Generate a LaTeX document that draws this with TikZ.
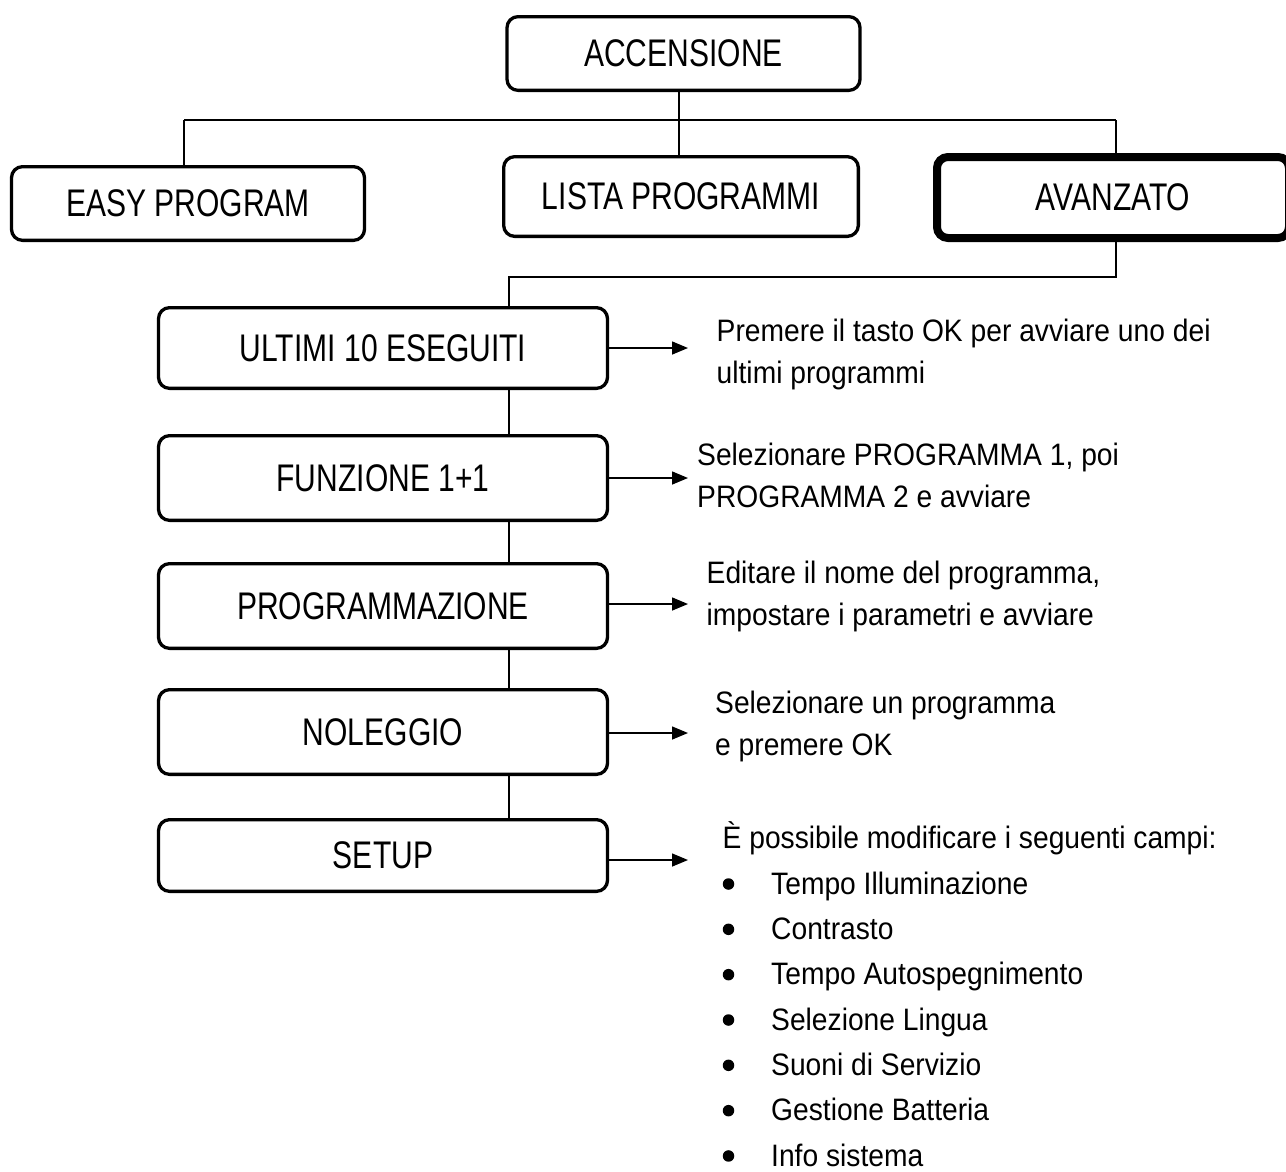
\documentclass[tikz,border=0pt]{standalone}
\usepackage{fontspec}
\setmainfont{Liberation Sans}[FakeStretch=0.91]
\newfontfamily\boxfont{Liberation Sans}[FakeStretch=0.78]
\usetikzlibrary{arrows.meta}
\begin{document}
\begin{tikzpicture}[x=1pt,y=-1pt,
  box/.style={draw, line width=3.3pt, rounded corners=11pt, minimum width=353pt, inner sep=0pt, font=\boxfont\fontsize{38.5}{42}\selectfont},
  widebox/.style={box, minimum width=449pt},
  conn/.style={line width=1.5pt},
  arr/.style={line width=1.5pt, -{Triangle[length=16pt,width=13pt]}},
  note/.style={anchor=base west, align=left, inner sep=0pt, font=\fontsize{31}{42}\selectfont},
  listnote/.style={note, font=\fontsize{31}{45.33}\selectfont},
  bul/.style={circle, fill=black, inner sep=0pt, minimum size=11.5pt}
]
\useasboundingbox (0,0) rectangle (1286,1171);

% top level
\node[box, minimum height=73.7pt] (acc) at (683.5,53.5) {ACCENSIONE};
\node[box, minimum height=73.7pt] (easy) at (188,203.5) {EASY PROGRAM};
\node[box, minimum width=354.7pt, minimum height=79.7pt] (lista) at (681,196.5) {LISTA PROGRAMMI};
\node[box, line width=8pt, minimum width=352pt, minimum height=81pt] (avz) at (1113,197.5) {AVANZATO};

% sub level
\node[widebox, minimum height=80.7pt] (ult) at (383,348) {ULTIMI 10 ESEGUITI};
\node[widebox, minimum height=84.7pt] (fun) at (383,478) {FUNZIONE 1+1};
\node[widebox, minimum height=84.7pt] (prog) at (383,606) {PROGRAMMAZIONE};
\node[widebox, minimum height=84.7pt] (nol) at (383,732) {NOLEGGIO};
\node[widebox, minimum height=71.7pt] (setup) at (383,855.5) {SETUP};

% connectors
\coordinate (bL) at (184,120);
\coordinate (bM) at (679,120);
\coordinate (bR) at (1116,120);
\draw[conn] (bL) -- (bR);
\draw[conn] (bM |- acc.south) -- (bM |- lista.north);
\draw[conn] (bL) -- (bL |- easy.north);
\draw[conn] (bR) -- (bR |- avz.north);
\coordinate (cR) at (1116,277);
\coordinate (cL) at (509,277);
\draw[conn] (cR |- avz.south) -- (cR) -- (cL) -- (cL |- ult.north);
\draw[conn] (cL |- ult.south) -- (cL |- fun.north);
\draw[conn] (cL |- fun.south) -- (cL |- prog.north);
\draw[conn] (cL |- prog.south) -- (cL |- nol.north);
\draw[conn] (cL |- nol.south) -- (cL |- setup.north);

% arrows
\coordinate (a1) at (688,348);
\coordinate (a2) at (688,478);
\coordinate (a3) at (688,604);
\coordinate (a4) at (688,733);
\coordinate (a5) at (688,860);
\draw[arr] (ult.east |- a1) -- (a1);
\draw[arr] (fun.east |- a2) -- (a2);
\draw[arr] (prog.east |- a3) -- (a3);
\draw[arr] (nol.east |- a4) -- (a4);
\draw[arr] (setup.east |- a5) -- (a5);

% notes (anchor = baseline of last line)
\node[note] (n1) at (716.5,383) {Premere il tasto OK per avviare uno dei\\ultimi programmi};
\node[note] (n2) at (697,507) {Selezionare PROGRAMMA 1, poi\\PROGRAMMA 2 e avviare};
\node[note] (n3) at (706.5,625) {Editare il nome del programma,\\impostare i parametri e avviare};
\node[note] (n4) at (715,755) {Selezionare un programma\\e premere OK};
\node[note] (n5) at (722.5,848) {È possibile modificare i seguenti campi:};
\node[listnote] (n6) at (771,1166) {Tempo Illuminazione\\Contrasto\\Tempo Autospegnimento\\Selezione Lingua\\Suoni di Servizio\\Gestione Batteria\\Info sistema};
\foreach \k in {0,...,6} {
  \node[bul] (b\k) at (728.5,884+45.33*\k) {};
}
\end{tikzpicture}
\end{document}
